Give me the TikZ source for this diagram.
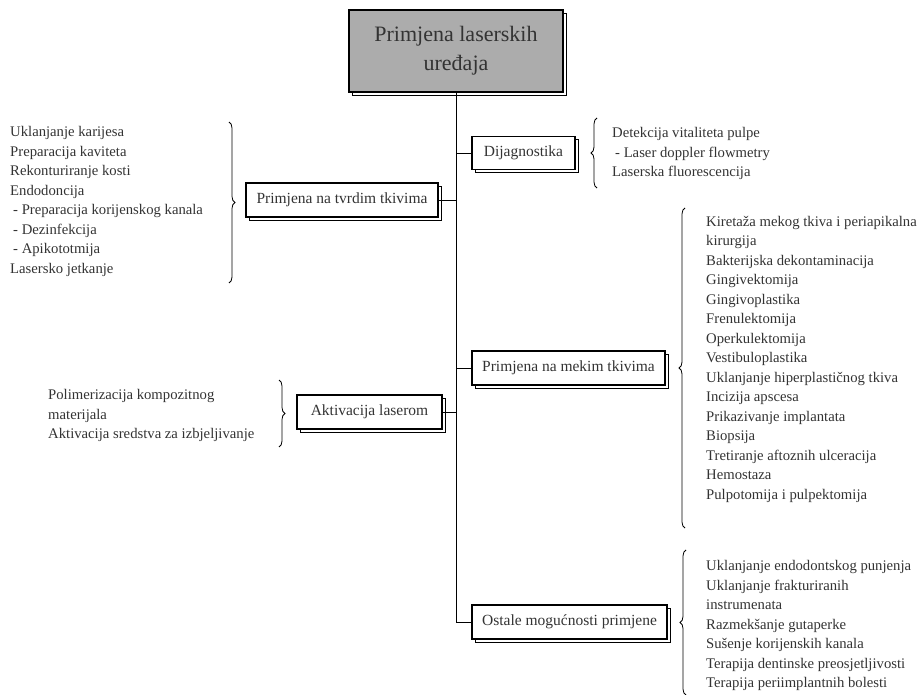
\documentclass[tikz,border=0pt]{standalone}
\usepackage{fontspec}
\setmainfont{Liberation Serif}
\usetikzlibrary{shadows,decorations.pathreplacing}

\begin{document}
\begin{tikzpicture}[x=1pt,y=-1pt]
\tikzstyle{box}=[draw,line width=1.3pt,fill=white,text=black!80,inner sep=0pt,font=\fontsize{15.5}{18}\selectfont,general shadow={fill=white,draw,line width=0.9pt,shadow xshift=3pt,shadow yshift=-3pt}];
\tikzstyle{list}=[align=left,inner sep=0pt,anchor=west,text=black!80,font=\fontsize{14.7}{19.5}\selectfont];
\tikzstyle{line}=[line width=0.9pt];
\tikzstyle{brace}=[decorate,decoration={brace,amplitude=6pt},line width=0.8pt];
\useasboundingbox (0,0) rectangle (920,695);
\node (0) [box,fill=gray!65,line width=1.8pt,minimum width=214pt,minimum height=82pt,align=center,font=\fontsize{22}{29}\selectfont] at (456,51) {Primjena laserskih\\uređaja};
\node (1) [box,minimum width=103pt,minimum height=33pt] at (523.5,153) {Dijagnostika};
\node (2) [box,minimum width=192pt,minimum height=34pt] at (342,200) {Primjena na tvrdim tkivima};
\node (3) [box,minimum width=193pt,minimum height=34pt] at (568.5,368) {Primjena na mekim tkivima};
\node (4) [box,minimum width=145pt,minimum height=34pt] at (369.5,412) {Aktivacija laserom};
\node (5) [box,minimum width=195pt,minimum height=34pt] at (569.5,622) {Ostale mogućnosti primjene};
\draw [line] (0) |- (5);
\draw [line] (1.west) -- (1.west -| 0.south);
\draw [line] (2.east) -- (2.east -| 0.south);
\draw [line] (3.west) -- (3.west -| 0.south);
\draw [line] (4.east) -- (4.east -| 0.south);
% lists
\node (l1) [list] at (612,153.5) {Detekcija vitaliteta pulpe\\\hspace*{3pt}- Laser doppler flowmetry\\Laserska fluorescencija};
\node (l2) [list] at (10,201.5) {Uklanjanje karijesa\\Preparacija kaviteta\\Rekonturiranje kosti\\Endodoncija\\\hspace*{3pt}- Preparacija korijenskog kanala\\\hspace*{3pt}- Dezinfekcija\\\hspace*{3pt}- Apikototmija\\Lasersko jetkanje};
\node (l3) [list] at (706,359) {Kiretaža mekog tkiva i periapikalna\\kirurgija\\Bakterijska dekontaminacija\\Gingivektomija\\Gingivoplastika\\Frenulektomija\\Operkulektomija\\Vestibuloplastika\\Uklanjanje hiperplastičnog tkiva\\Incizija apscesa\\Prikazivanje implantata\\Biopsija\\Tretiranje aftoznih ulceracija\\Hemostaza\\Pulpotomija i pulpektomija};
\node (l4) [list] at (48,415.5) {Polimerizacija kompozitnog\\materijala\\Aktivacija sredstva za izbjeljivanje};
\node (l5) [list] at (706,625.5) {Uklanjanje endodontskog punjenja\\Uklanjanje frakturiranih\\instrumenata\\Razmekšanje gutaperke\\Sušenje korijenskih kanala\\Terapija dentinske preosjetljivosti\\Terapija periimplantnih bolesti};
% braces
\draw [brace] (597,188) -- (597,118);
\draw [brace] (229,122) -- (229,283);
\draw [brace] (685,528) -- (685,208);
\draw [brace] (279,380) -- (279,447);
\draw [brace] (686,695) -- (686,550);
\end{tikzpicture}
\end{document}
